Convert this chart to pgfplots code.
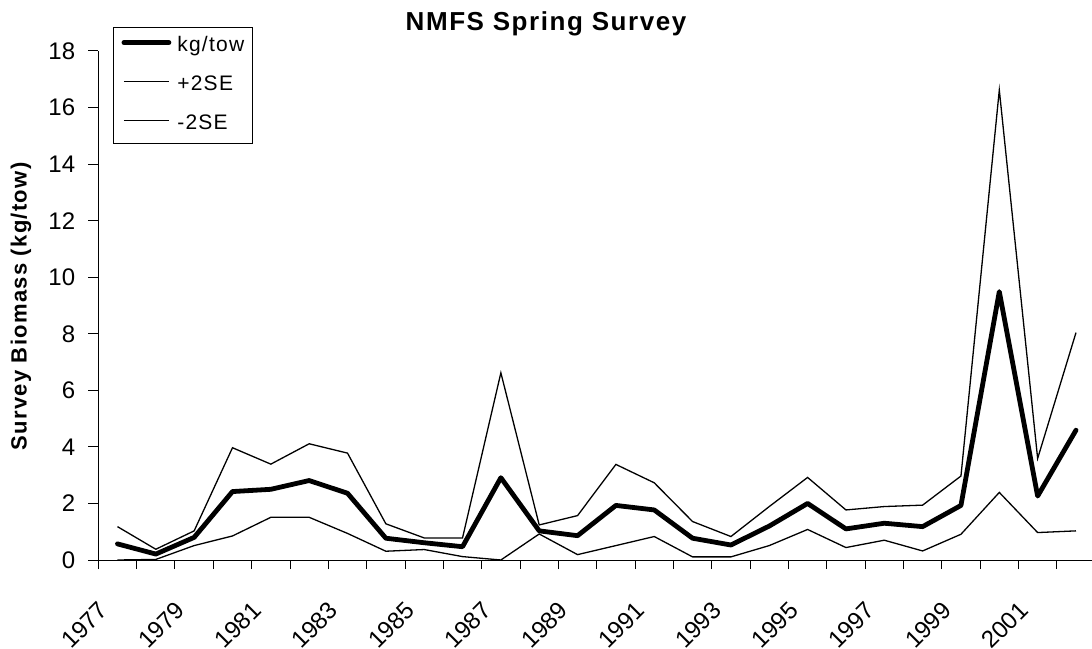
\documentclass[border=0pt]{standalone}
\usepackage{fontspec}
\setmainfont{Liberation Sans}
\newfontfamily\spacedfont[LetterSpace=6]{Liberation Sans}
\usepackage{pgfplots}
\usepackage{pgfplotstable}
\pgfplotsset{compat=1.18}
\pgfplotstableread{
idx main upper lower
0 0.57 1.18 0.00
1 0.21 0.38 0.02
2 0.80 1.03 0.51
3 2.42 3.97 0.85
4 2.50 3.39 1.51
5 2.81 4.11 1.51
6 2.36 3.78 0.94
7 0.77 1.28 0.31
8 0.61 0.78 0.37
9 0.47 0.78 0.12
10 2.91 6.62 0.00
11 1.03 1.24 0.92
12 0.86 1.57 0.19
13 1.93 3.38 0.51
14 1.77 2.73 0.83
15 0.77 1.36 0.11
16 0.53 0.83 0.11
17 1.20 1.89 0.51
18 2.00 2.92 1.08
19 1.10 1.77 0.44
20 1.30 1.89 0.70
21 1.18 1.94 0.32
22 1.93 2.97 0.91
23 9.49 16.62 2.39
24 2.26 3.59 0.97
25 4.59 8.04 1.03
}\datatable

\begin{document}
\begin{tikzpicture}
\useasboundingbox (0,0) rectangle (1092bp,649bp);
\begin{axis}[
  at={(98.3bp,89bp)}, anchor=south west,
  scale only axis, width=993.7bp, height=509bp,
  xmin=-0.5, xmax=25.418, ymin=0, ymax=18,
  axis x line*=bottom, axis y line*=left,
  axis line style={black, line width=1bp},
  xtick={0,2,...,24},
  xticklabels={1977,1979,1981,1983,1985,1987,1989,1991,1993,1995,1997,1999,2001},
  minor xtick={-0.5,0.5,...,24.5},
  major x tick style={draw=none},
  ytick={0,2,...,18},
  tick align=outside,
  major tick length=10bp, minor tick length=9bp,
  tick style={black, line width=1bp},
  /pgf/number format/assume math mode=true,
  ticklabel style={font=\fontsize{24bp}{28bp}\selectfont},
  yticklabel style={anchor=east, inner sep=0pt, xshift=-13bp},
  xticklabel style={inner sep=0pt, anchor=north east, xshift=-20bp, yshift=-30bp, rotate=45},
  legend style={at={(0.0148,1.047)}, anchor=north west, draw=black, line width=1bp,
    inner xsep=8bp, inner ysep=9bp, row sep=19bp, column sep=6bp,
    font=\spacedfont\fontsize{21bp}{25bp}\selectfont,
    nodes={inner sep=0pt, text height=15bp, text depth=5bp}},
  legend cell align=left,
  legend image code/.code={\draw[#1] (0bp,4bp) -- (45bp,4bp);},
]
\addplot[black, line width=4.8bp, line join=round, line cap=round] table[x=idx, y=main] {\datatable};
\addlegendentry{kg/tow}
\addplot[black, line width=1.3bp, line join=miter] table[x=idx, y=upper] {\datatable};
\addlegendentry{+2SE}
\addplot[black, line width=1.3bp, line join=miter] table[x=idx, y=lower] {\datatable};
\addlegendentry{-2SE}
\end{axis}
\node[anchor=base] at (546bp,618bp) {\spacedfont\bfseries\fontsize{26bp}{31bp}\selectfont NMFS Spring Survey};
\node[rotate=90, anchor=center] at (21bp,342.5bp) {\spacedfont\bfseries\fontsize{22bp}{26bp}\selectfont Survey Biomass (kg/tow)};
\end{tikzpicture}
\end{document}
